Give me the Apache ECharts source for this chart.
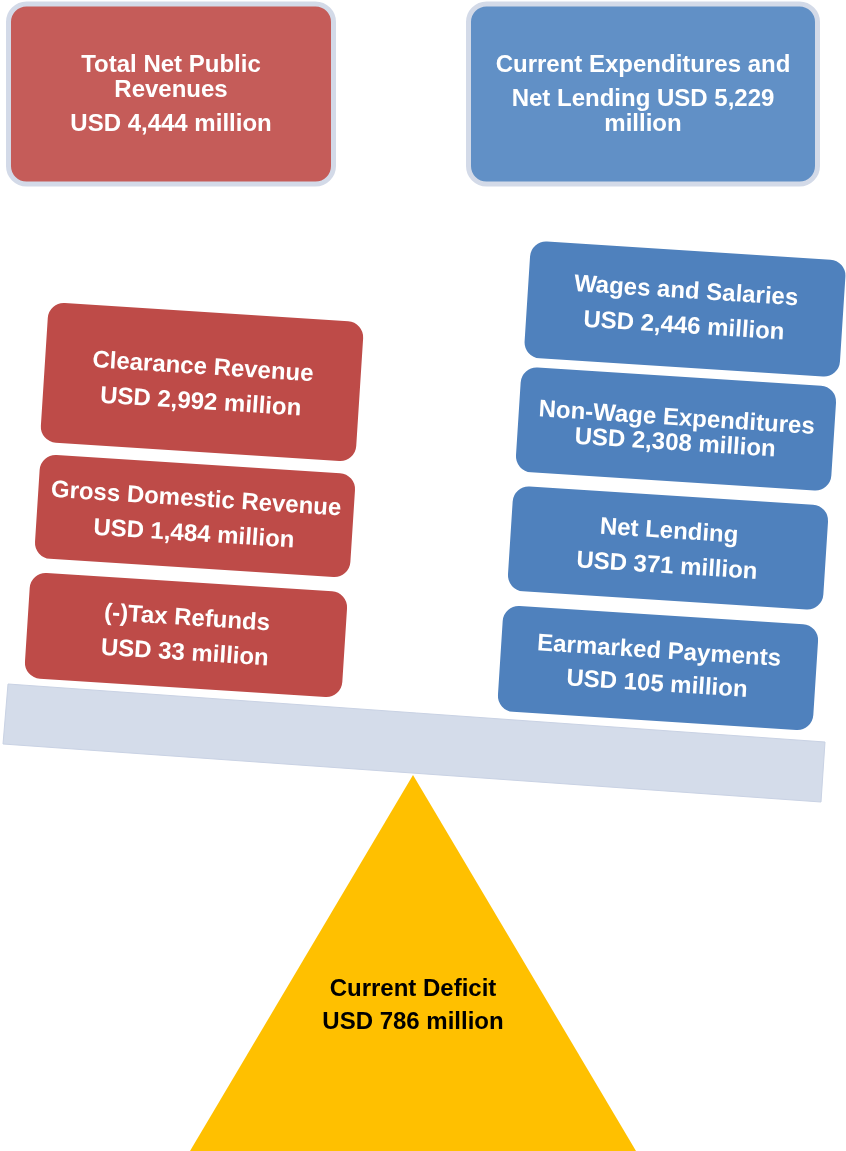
<!DOCTYPE html>
<html>
<head>
<meta charset="utf-8">
<script src="https://cdn.jsdelivr.net/npm/echarts@6/dist/echarts.min.js"></script>
<style>
  html, body { margin: 0; padding: 0; background: #fff; }
  #chart { width: 846px; height: 1151px; }
</style>
</head>
<body>
<div id="chart"></div>
<script>
// totals
const totalRevenue = 4444;
const totalExpenditure = 5229;
const currentDeficit = 786;

// revenue side (left pan)
const revenueNames = ['Clearance Revenue', 'Gross Domestic Revenue', '(-)Tax Refunds'];
const revenueValues = [2992, 1484, 33];

// expenditure side (right pan)
const expenditureNames = ['Wages and Salaries', 'Non-Wage Expenditures', 'Net Lending', 'Earmarked Payments'];
const expenditureValues = [2446, 2308, 371, 105];

// layout (centres of the tilted boxes, their sizes and line spacing)
const tilt = -0.064;
const revenueBoxes = [
    { cx: 202, cy: 382, w: 316, h: 140, lh: 35, dy: 3 },
    { cx: 195, cy: 516, w: 316, h: 104, lh: 35, dy: 1 },
    { cx: 186, cy: 635, w: 318, h: 106, lh: 35, dy: 1 }
];
const expenditureBoxes = [
    { cx: 685, cy: 309, w: 316, h: 117, lh: 35, dy: 0 },
    { cx: 676, cy: 429, w: 316, h: 105, lh: 25, dy: 2 },
    { cx: 668, cy: 548, w: 316, h: 105, lh: 35, dy: 1 },
    { cx: 658, cy: 668, w: 316, h: 106, lh: 33, dy: 0 }
];

const fmt = v => 'USD ' + v.toLocaleString('en-US') + ' million';
const family = '"Liberation Sans", Arial, sans-serif';
const txt = (fill, lh) => ({ fill: fill, fontFamily: family, fontWeight: 'bold', fontSize: 24, lineHeight: lh });

function tiltedBox(box, label, value, color) {
    return {
        type: 'group',
        x: box.cx,
        y: box.cy,
        rotation: tilt,
        children: [
            {
                type: 'rect',
                shape: { x: -box.w / 2, y: -box.h / 2, width: box.w, height: box.h, r: 16 },
                style: { fill: color }
            },
            {
                type: 'text',
                style: Object.assign({
                    text: label + '\n' + fmt(value),
                    x: 0, y: box.dy,
                    align: 'center', verticalAlign: 'middle'
                }, txt('#fff', box.lh))
            }
        ]
    };
}

const elements = [];

// header boxes
elements.push({
    type: 'rect',
    shape: { x: 8.5, y: 4, width: 325, height: 180, r: 18 },
    style: { fill: '#C55C59', stroke: '#D3DAE8', lineWidth: 5 }
});
elements.push({
    type: 'text',
    style: Object.assign({
        text: '{a|Total Net Public}\n{a|Revenues}\n{b|USD ' + totalRevenue.toLocaleString('en-US') + ' million}',
        x: 171, y: 99, align: 'center', verticalAlign: 'middle',
        rich: { a: txt('#fff', 25), b: txt('#fff', 43) }
    }, txt('#fff', 25))
});
elements.push({
    type: 'rect',
    shape: { x: 468.5, y: 4, width: 349, height: 180, r: 18 },
    style: { fill: '#6190C6', stroke: '#D3DAE8', lineWidth: 5 }
});
elements.push({
    type: 'text',
    style: Object.assign({
        text: '{b|Current Expenditures and}\n{a|Net Lending USD ' + totalExpenditure.toLocaleString('en-US') + '}\n{a|million}',
        x: 643, y: 90, align: 'center', verticalAlign: 'middle',
        rich: { a: txt('#fff', 25), b: txt('#fff', 43) }
    }, txt('#fff', 25))
});

// fulcrum
elements.push({
    type: 'polygon',
    shape: { points: [[413, 775], [636, 1151], [190, 1151]] },
    style: { fill: '#FFC000' }
});
elements.push({
    type: 'text',
    style: Object.assign({
        text: 'Current Deficit\nUSD ' + currentDeficit + ' million',
        x: 413, y: 1006, align: 'center', verticalAlign: 'middle'
    }, txt('#000', 33))
});

// beam
elements.push({
    type: 'polygon',
    shape: { points: [[8, 684], [825, 742], [821, 802], [3, 744]] },
    style: { fill: '#D4DCEA', stroke: '#C9D2E4', lineWidth: 1 }
});

revenueNames.forEach((n, i) => elements.push(tiltedBox(revenueBoxes[i], n, revenueValues[i], '#BE4B48')));
expenditureNames.forEach((n, i) => elements.push(tiltedBox(expenditureBoxes[i], n, expenditureValues[i], '#4F81BD')));

const chart = echarts.init(document.getElementById('chart'), null, { renderer: 'canvas' });
chart.setOption({
    backgroundColor: '#fff',
    animation: false,
    graphic: { elements: elements }
});
</script>
</body>
</html>
